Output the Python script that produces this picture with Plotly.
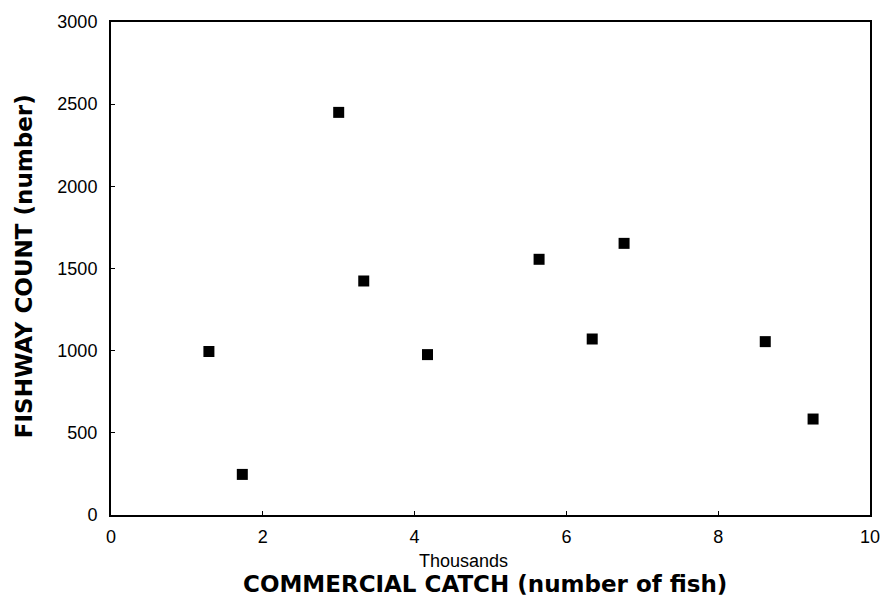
import plotly.graph_objects as go

# Commercial catch (thousands of fish) vs. fishway count
catch_thousands = [1.29, 1.73, 3.00, 3.33, 4.17, 5.64, 6.34, 6.76, 8.62, 9.25]
fishway_count = [995, 247, 2450, 1424, 976, 1556, 1071, 1653, 1055, 584]

x_ticks = [0, 2, 4, 6, 8, 10]
y_ticks = [0, 500, 1000, 1500, 2000, 2500, 3000]

tick_family = "Liberation Sans, Arial, sans-serif"
title_family = "DejaVu Sans, sans-serif"

fig = go.Figure()
fig.add_trace(go.Scatter(
    x=catch_thousands,
    y=fishway_count,
    mode="markers",
    marker=dict(symbol="square", size=11, color="black"),
    showlegend=False,
))

axis_common = dict(
    showgrid=False,
    zeroline=False,
    showline=True,
    linecolor="black",
    linewidth=2,
    mirror=True,
    ticks="inside",
    ticklen=4,
    tickwidth=1,
    tickcolor="black",
    tickfont=dict(family=tick_family, size=18, color="black"),
)

fig.update_layout(
    width=892,
    height=600,
    margin=dict(l=111, r=12, t=20, b=85),
    paper_bgcolor="white",
    plot_bgcolor="white",
    xaxis=dict(
        range=[0, 10],
        tickvals=x_ticks,
        ticktext=[str(v) for v in x_ticks],
        ticklabelstandoff=4,
        **axis_common,
    ),
    yaxis=dict(
        range=[0, 3000],
        tickvals=y_ticks,
        ticktext=[str(v) for v in y_ticks],
        ticklabelstandoff=8,
        **axis_common,
    ),
    annotations=[
        dict(text="<b>FISHWAY COUNT (number)</b>", xref="paper", yref="paper",
             x=-0.1144, y=0.505, xanchor="center", yanchor="middle", textangle=-90,
             showarrow=False,
             font=dict(family=title_family, size=23, color="black")),
        dict(text="Thousands", xref="paper", yref="paper", x=0.464, y=-0.093,
             xanchor="center", yanchor="middle", showarrow=False,
             font=dict(family=tick_family, size=18, color="black")),
        dict(text="<b>COMMERCIAL CATCH (number of fish)</b>", xref="paper", yref="paper",
             x=0.493, y=-0.139, xanchor="center", yanchor="middle", showarrow=False,
             font=dict(family=title_family, size=23, color="black")),
    ],
)

fig.write_html("out.html")
